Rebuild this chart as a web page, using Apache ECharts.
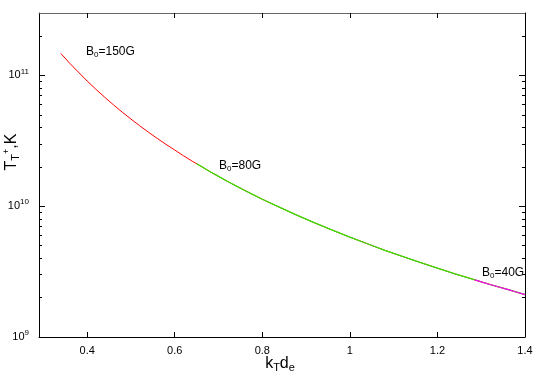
<!DOCTYPE html>
<html>
<head>
<meta charset="utf-8">
<script src="https://cdn.jsdelivr.net/npm/echarts@6/dist/echarts.min.js"></script>
<style>
  html, body { margin: 0; padding: 0; background: #fff; }
  #root { width: 545px; height: 382px; }
</style>
</head>
<body>
<div id="root"></div>
<script>
// data
var kB150 = [0.34, 0.36, 0.38, 0.40, 0.42, 0.44, 0.46, 0.48, 0.50, 0.52, 0.54, 0.56, 0.58, 0.60, 0.62, 0.64, 0.66, 0.68, 0.70, 0.72, 0.74, 0.76, 0.78, 0.80, 0.84, 0.88, 0.92, 0.96, 1.00, 1.04, 1.08, 1.12, 1.16, 1.20, 1.24, 1.28, 1.32, 1.36, 1.40];
var tB150 = [1.47e11, 1.24e11, 1.06e11, 9.06e10, 7.83e10, 6.81e10, 5.96e10, 5.24e10, 4.64e10, 4.12e10, 3.68e10, 3.30e10, 2.97e10, 2.69e10, 2.43e10, 2.21e10, 2.02e10, 1.84e10, 1.69e10, 1.55e10, 1.43e10, 1.32e10, 1.22e10, 1.13e10, 9.79e9, 8.51e9, 7.45e9, 6.56e9, 5.80e9, 5.16e9, 4.60e9, 4.13e9, 3.72e9, 3.36e9, 3.04e9, 2.77e9, 2.52e9, 2.31e9, 2.11e9];

var kB80 = [0.65, 0.66, 0.68, 0.70, 0.72, 0.74, 0.76, 0.78, 0.80, 0.84, 0.88, 0.92, 0.96, 1.00, 1.04, 1.08, 1.12, 1.16, 1.20, 1.24, 1.28, 1.32, 1.36, 1.40];
var tB80 = [2.11e10, 2.02e10, 1.84e10, 1.69e10, 1.55e10, 1.43e10, 1.32e10, 1.22e10, 1.13e10, 9.79e9, 8.51e9, 7.45e9, 6.56e9, 5.80e9, 5.16e9, 4.60e9, 4.13e9, 3.72e9, 3.36e9, 3.04e9, 2.77e9, 2.52e9, 2.31e9, 2.11e9];

var kB40 = [1.285, 1.30, 1.32, 1.34, 1.36, 1.38, 1.40];
var tB40 = [2.73e9, 2.64e9, 2.52e9, 2.41e9, 2.31e9, 2.21e9, 2.11e9];

var xTicks = [0.4, 0.6, 0.8, 1, 1.2, 1.4];
var yMajor = [1e9, 1e10, 1e11];
var yMinor = [2e9, 3e9, 4e9, 5e9, 6e9, 7e9, 8e9, 9e9, 2e10, 3e10, 4e10, 5e10, 6e10, 7e10, 8e10, 9e10, 2e11];

function pairs(xs, ys) {
  return xs.map(function (x, i) { return [x, ys[i]]; });
}

var font = '"Liberation Sans", Arial, sans-serif';
var lineCol = '#000';

function xAx(pos, labels) {
  return {
    type: 'value', position: pos, min: 0.29, max: 1.4,
    axisLine: { show: true, lineStyle: { color: pos == 'top' ? '#666' : lineCol, width: 1 } },
    axisTick: { show: true, inside: true, length: 5, customValues: xTicks, lineStyle: { color: lineCol } },
    axisLabel: { show: labels, customValues: xTicks, color: '#000', fontFamily: font, fontSize: 11, margin: 8 },
    splitLine: { show: false }
  };
}

function yAx(pos, major, labels) {
  return {
    type: 'log', logBase: 10, position: pos, min: 1e9, max: 3e11,
    axisLine: { show: major, lineStyle: { color: lineCol, width: 1 } },
    axisTick: { show: true, inside: true, length: major ? 6 : 3, customValues: major ? yMajor : yMinor, lineStyle: { color: lineCol } },
    axisLabel: {
      show: labels, customValues: yMajor, margin: 10,
      formatter: function (v) { return '{b|10}{s|' + Math.round(Math.log10(v)) + '}'; },
      rich: {
        b: { fontFamily: font, fontSize: 11, color: '#000' },
        s: { fontFamily: font, fontSize: 8, color: '#000', verticalAlign: 'top', padding: [0, 0, 8, 0] }
      }
    },
    splitLine: { show: false }
  };
}

// B_0 label
function bLabel(x, y, txt) {
  return { type: 'text', x: x, y: y, style: { text: '{m|B}{d|0}{m|' + txt + '}', verticalAlign: 'middle',
    rich: { m: { fontFamily: font, fontSize: 12, fill: '#000' }, d: { fontFamily: font, fontSize: 8, fill: '#000', verticalAlign: 'bottom', padding: [6, 0, 0, 0] } } } };
}

var chart = echarts.init(document.getElementById('root'));
chart.setOption({
  animation: false,
  grid: { left: 39, top: 13, right: 20, bottom: 45 },
  xAxis: [xAx('bottom', true), xAx('top', false)],
  yAxis: [yAx('left', true, true), yAx('left', false, false), yAx('right', true, false), yAx('right', false, false)],
  series: [
    { type: 'line', data: pairs(kB150, tB150), showSymbol: false, lineStyle: { color: '#ff0000', width: 1 }, z: 2 },
    { type: 'line', data: pairs(kB80, tB80), showSymbol: false, lineStyle: { color: '#33e000', width: 1.2 }, z: 3 },
    { type: 'line', data: pairs(kB40, tB40), showSymbol: false, lineStyle: { color: '#ff00ff', width: 1.2 }, z: 4 }
  ],
  graphic: [
    bLabel(86, 52, '=150G'),
    bLabel(219, 166, '=80G'),
    bLabel(482, 273, '=40G'),
    { type: 'text', x: 280, y: 364, style: { text: '{m|k}{d|T}{m|d}{d|e}', align: 'center', verticalAlign: 'middle',
      rich: { m: { fontFamily: font, fontSize: 16, fill: '#000' }, d: { fontFamily: font, fontSize: 11, fill: '#000', verticalAlign: 'bottom', padding: [8, 0, 0, 0] } } } },
    { type: 'text', x: 12, y: 152, rotation: Math.PI / 2, style: { text: '{m|T}{d|T}{u|+}{m|,K}', align: 'center', verticalAlign: 'middle',
      rich: { m: { fontFamily: font, fontSize: 16, fill: '#000' }, d: { fontFamily: font, fontSize: 11, fill: '#000', verticalAlign: 'bottom', padding: [8, 0, 0, 0] },
              u: { fontFamily: font, fontSize: 9, fill: '#000', verticalAlign: 'top', padding: [0, 0, 4, 0] } } } }
  ]
});
</script>
</body>
</html>
